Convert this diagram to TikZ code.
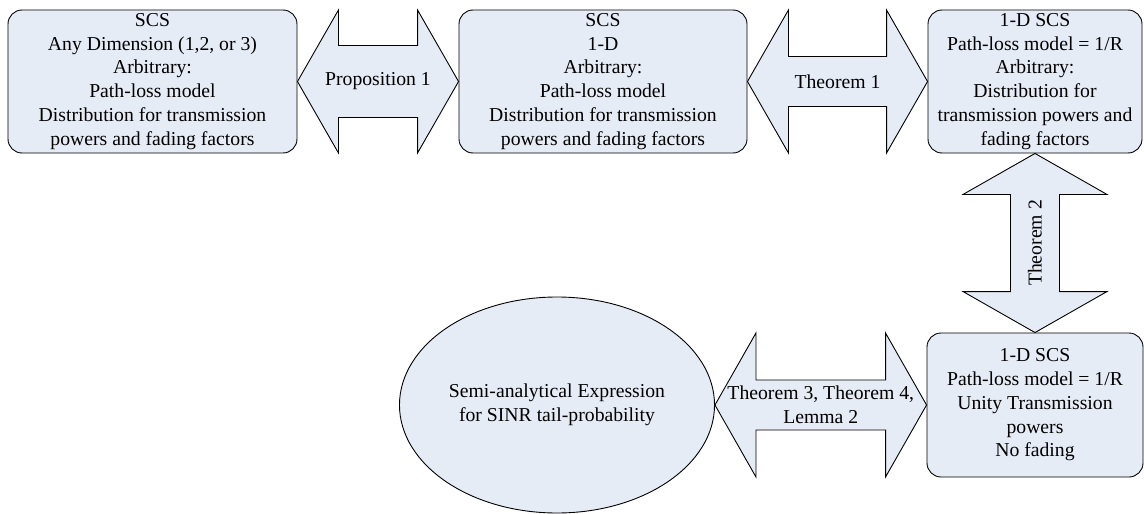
\documentclass[tikz,border=0pt]{standalone}
\usepackage{fontspec}
\setmainfont{Liberation Serif}
\usetikzlibrary{calc,shapes.geometric}

\definecolor{boxfill}{RGB}{230,236,246}

\tikzset{
  scsbox/.style = {rectangle, draw=black, line width=0.9pt, fill=boxfill, rounded corners=14pt, minimum height=143pt, align=center, inner sep=0pt, font=\fontsize{19.7}{23.8}\selectfont},
  blockarrow/.style = {draw=black, line width=0.9pt, fill=boxfill, line join=miter},
  arrowtext/.style = {align=center, font=\fontsize{19.7}{23.8}\selectfont}
}

\begin{document}
\begin{tikzpicture}

\useasboundingbox (-152.5pt,81.5pt) rectangle (991.5pt,-432.5pt);

\node(scs) [scsbox, minimum width=289pt] {SCS\\Any Dimension (1,2, or 3)\\Arbitrary:\\Path-loss model\\Distribution for transmission\\powers and fading factors};
\node(onedim) [scsbox, minimum width=288pt, xshift = 450.5pt] {SCS\\1-D\\Arbitrary:\\Path-loss model\\Distribution for transmission\\powers  and fading factors};
\node(oner) [scsbox, minimum width=214pt, xshift = 882.5pt] {1-D SCS\\Path-loss model = 1/R\\Arbitrary:\\Distribution for\\transmission powers and\\fading factors};
\node(unity) [scsbox, minimum width=216pt, minimum height=144pt, xshift = 882.5pt, yshift = -323.5pt] {1-D SCS\\Path-loss model = 1/R\\Unity Transmission\\powers\\No fading};
\node(expr) [ellipse, draw=black, line width=0.9pt, fill=boxfill, minimum width=268pt, minimum height=216pt, align=center, font=\fontsize{19.7}{23.8}\selectfont, xshift = 404.5pt, yshift = -323.5pt] {Semi-analytical Expression\\for SINR tail-probability};

% Proposition 1
\draw[blockarrow] (scs.east) -- ++(41pt,71.5pt) -- ++(0,-35.5pt) -- ($(onedim.west)+(-41pt,36pt)$) -- ++(0,35.5pt) -- (onedim.west) -- ++(-41pt,-71.5pt) -- ++(0,35.5pt) -- ($(scs.east)+(41pt,-36pt)$) -- ++(0,-35.5pt) -- cycle;
\node(prop) [arrowtext] at ($(scs.east)!0.5!(onedim.west)$) {Proposition 1};

% Theorem 1
\draw[blockarrow] (onedim.east) -- ++(41pt,71.5pt) -- ++(0,-46.5pt) -- ($(oner.west)+(-41pt,25pt)$) -- ++(0,46.5pt) -- (oner.west) -- ++(-41pt,-71.5pt) -- ++(0,46.5pt) -- ($(onedim.east)+(41pt,-25pt)$) -- ++(0,-46.5pt) -- cycle;
\node(thm1) [arrowtext] at ($(onedim.east)!0.5!(oner.west)$) {Theorem 1};

% Theorem 2
\draw[blockarrow] (oner.south) -- ++(72pt,-41pt) -- ++(-47.5pt,0) -- ($(unity.north)+(24.5pt,41pt)$) -- ++(47.5pt,0) -- (unity.north) -- ++(-72pt,41pt) -- ++(47.5pt,0) -- ($(oner.south)+(-24.5pt,-41pt)$) -- ++(-47.5pt,0) -- cycle;
\node(thm2) [arrowtext, rotate=90] at ($(oner.south)!0.5!(unity.north)$) {Theorem 2};

% Theorem 3, Theorem 4, Lemma 2
\draw[blockarrow] (expr.east) -- ++(41pt,72pt) -- ++(0,-47pt) -- ($(unity.west)+(-41pt,25pt)$) -- ++(0,47pt) -- (unity.west) -- ++(-41pt,-72pt) -- ++(0,47pt) -- ($(expr.east)+(41pt,-25pt)$) -- ++(0,-47pt) -- cycle;
\node(thm3) [arrowtext] at ($(expr.east)!0.5!(unity.west)$) {Theorem 3, Theorem 4,\\Lemma 2};

\end{tikzpicture}
\end{document}
